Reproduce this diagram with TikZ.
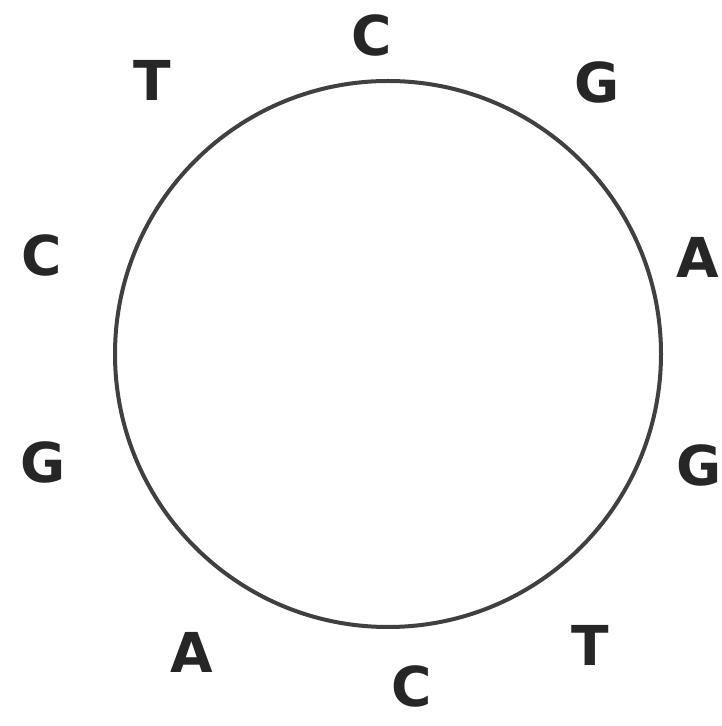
\documentclass[tikz,border=0pt]{standalone}
\usepackage{fontspec}
\setmainfont{DejaVu Sans}
\begin{document}
\begin{tikzpicture}[x=1pt,y=1pt,
  base/.style={inner sep=0pt, anchor=center, text=black!85, font=\fontsize{55}{60}\selectfont\bfseries}]
\useasboundingbox (0,0) rectangle (722,726);
\fill[white] (0,0) rectangle (722,726);
\coordinate (ctr) at (388,372);
\draw[line width=4pt, black!75] (ctr) circle[radius=273];
\node[base] (c1) at (372,691) {C};
\node[base] (g1) at (597,644) {G};
\node[base] (a1) at (698,469) {A};
\node[base] (g2) at (699,261) {G};
\node[base] (t1) at (590,81) {T};
\node[base] (c2) at (412,40) {C};
\node[base] (a2) at (192,74) {A};
\node[base] (g3) at (43,264) {G};
\node[base] (c3) at (42,471) {C};
\node[base] (t2) at (152,646) {T};
\end{tikzpicture}
\end{document}
